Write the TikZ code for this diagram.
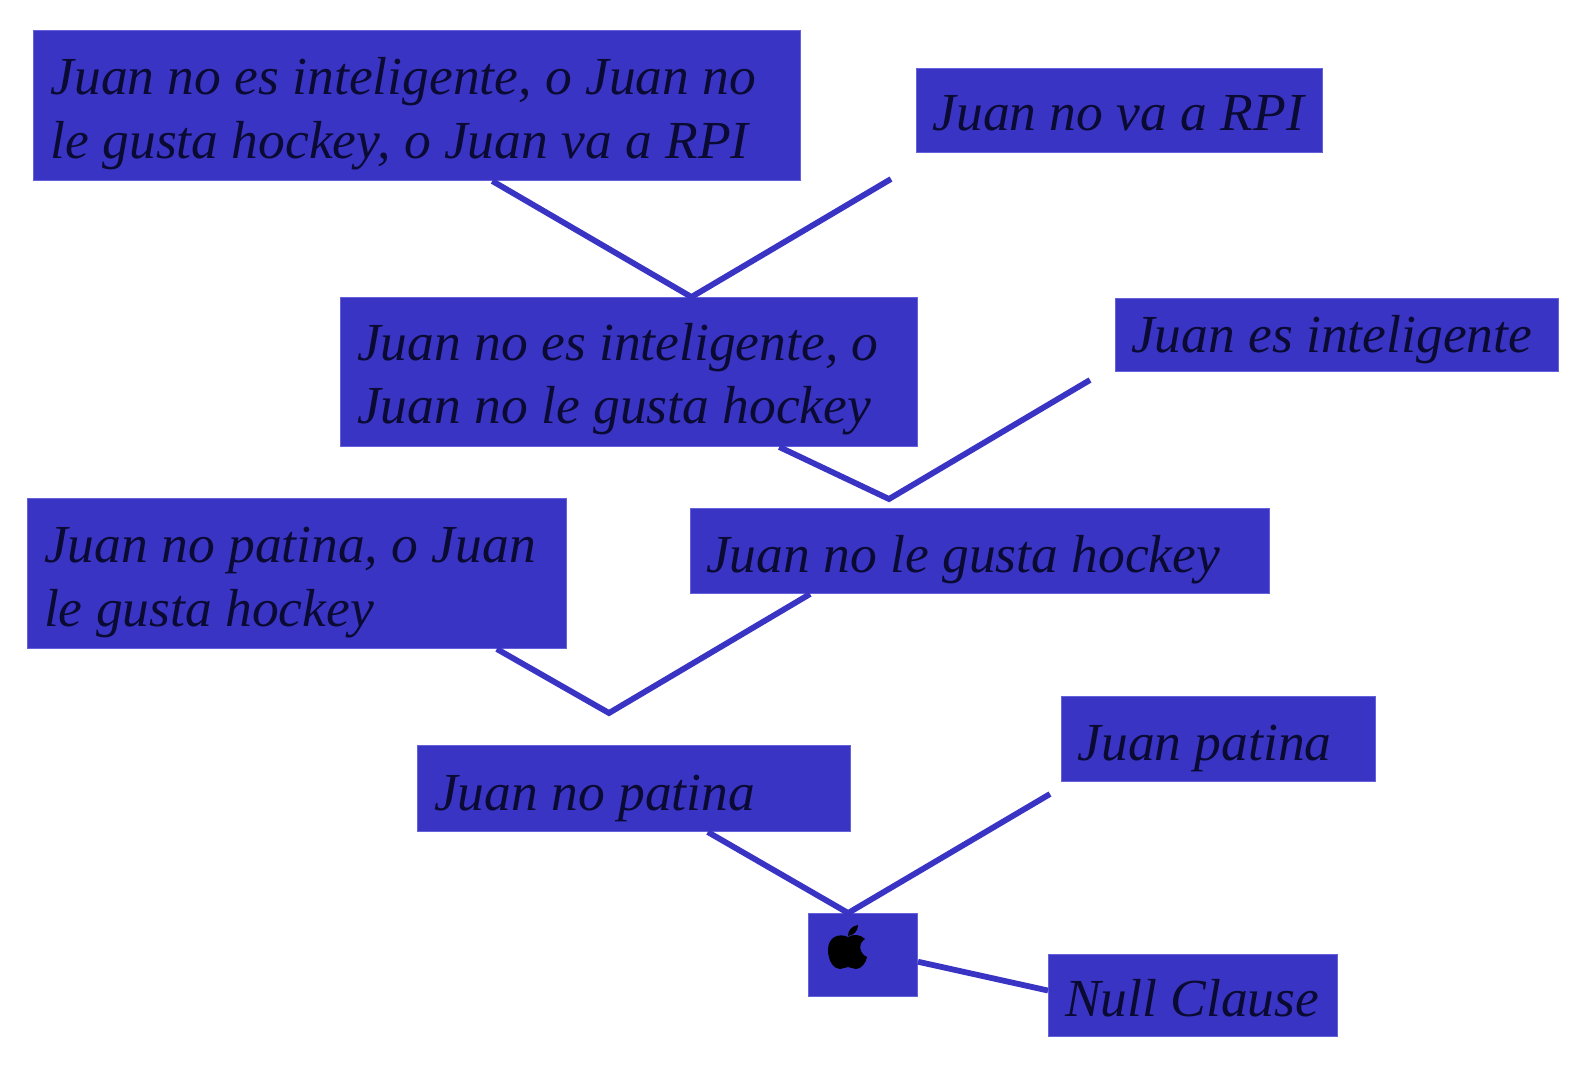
\documentclass[tikz,border=0pt]{standalone}
\usepackage{fontspec}
\setmainfont{Liberation Serif}
\usetikzlibrary{calc}
\definecolor{boxblue}{HTML}{3934C3}
\definecolor{boxedge}{HTML}{6561DA}
\definecolor{inkblue}{HTML}{0A0A32}
\newcommand{\lbl}[3]{\smash{\raisebox{#2pt}{\parbox[t]{#1pt}{\raggedright\hspace{0pt}#3}}}}
\tikzset{
  clause/.style={rectangle,anchor=north west,fill=boxblue,draw=boxedge,line width=1pt,inner sep=0pt,
    text=inkblue,font=\fontsize{53.5}{63.5}\selectfont\itshape},
  link/.style={draw=boxblue,line width=5.8pt,line cap=butt,line join=miter}
}
\begin{document}
\begin{tikzpicture}[x=1pt,y=-1pt]
\useasboundingbox (0,0) rectangle (1588,1069);
\fill[white] (0,0) rectangle (1588,1069);
\coordinate (f1) at (891,179);
\coordinate (f2) at (1090,380);
\coordinate (j2) at (889,499);
\coordinate (j3) at (609,713);
\coordinate (f4) at (1050,794);
\node[clause,minimum width=767pt,minimum height=150pt] (a) at (33,30) {\lbl{733}{11}{Juan no es inteligente, o Juan no\\le gusta hockey, o Juan va a RPI}};
\node[clause,minimum width=406pt,minimum height=84pt] (b) at (916,68) {\lbl{374}{-20}{Juan no va a RPI}};
\node[clause,minimum width=577pt,minimum height=149pt] (c) at (340,297) {\lbl{544}{12}{Juan no es inteligente, o\\Juan no le gusta hockey}};
\node[clause,minimum width=443pt,minimum height=73pt] (d) at (1115,298) {\lbl{412}{-17}{Juan es inteligente}};
\node[clause,minimum width=539pt,minimum height=150pt] (e) at (27,498) {\lbl{506}{11}{Juan no patina, o Juan\\le gusta hockey}};
\node[clause,minimum width=579pt,minimum height=85pt] (g) at (690,508) {\lbl{548}{-21}{Juan no le gusta hockey}};
\node[clause,minimum width=433pt,minimum height=86pt] (h) at (417,745) {\lbl{400}{-22}{Juan no patina}};
\node[clause,minimum width=314pt,minimum height=85pt] (i) at (1061,696) {\lbl{282}{-21}{Juan patina}};
\node[clause,minimum width=109pt,minimum height=83pt] (k) at (808,913) {};
\node[clause,minimum width=289pt,minimum height=82pt] (m) at (1048,954) {\lbl{256}{-21}{Null Clause}};
\fill[black] (848,937) .. controls (840,933) and (828,936) .. (828,950)
  .. controls (828,961) and (834,969) .. (840,969)
  .. controls (843,969) and (845,967) .. (848,967)
  .. controls (851,967) and (853,969) .. (856,969)
  .. controls (861,969) and (866,963) .. (867,957)
  .. controls (860,954) and (857,944) .. (865,939)
  .. controls (860,934) and (853,934) .. (848,937) -- cycle;
\fill[black] (848,936) .. controls (848,930) and (852,926) .. (858,925)
  .. controls (858,931) and (854,935) .. (848,936) -- cycle;
\draw[link] ($(a.south west)!0.598!(a.south east)$) -- ($(c.north west)!0.608!(c.north east)$) -- (f1);
\draw[link] ($(c.south west)!0.76!(c.south east)$) -- (j2) -- (f2);
\draw[link] ($(e.south west)!0.87!(e.south east)$) -- (j3) -- ($(g.south west)!0.207!(g.south east)$);
\draw[link] ($(h.south west)!0.67!(h.south east)$) -- ($(k.north west)!0.365!(k.north east)$) -- (f4);
\draw[link] ($(k.north east)!0.58!(k.south east)$) -- ($(m.north west)!0.44!(m.south west)$);
\end{tikzpicture}
\end{document}
